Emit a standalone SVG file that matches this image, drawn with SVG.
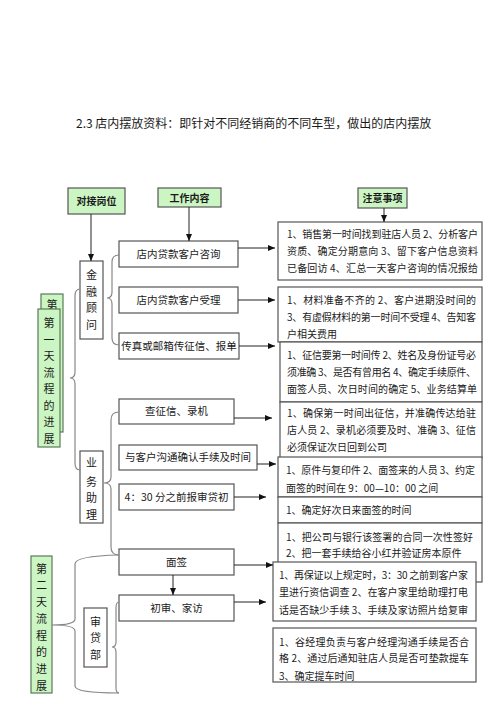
<svg xmlns="http://www.w3.org/2000/svg" width="500" height="708" viewBox="0 0 500 708">
<defs>
<marker id="ah" markerUnits="userSpaceOnUse" markerWidth="7" markerHeight="6" refX="7" refY="3" orient="auto">
<path d="M0,0 L7,3 L0,6 z" fill="#111"/>
</marker>
<style>
text{font-family:"Noto Sans CJK SC","Noto Sans",sans-serif;fill:#1a1a1a}
.box{fill:#fff;stroke:#555;stroke-width:1.2}
.hd{fill:#ccf5c4;stroke:#555;stroke-width:1.2}
.g{fill:#ccf5c4;stroke:#5a7a5a;stroke-width:1.2}
.lbl{font-size:10.5px;text-anchor:middle}
.hdt{font-size:10px;text-anchor:middle;font-weight:bold}
.v{font-size:11px;text-anchor:middle}
.n{font-size:10px}
.br{fill:none;stroke:#888;stroke-width:1.2}
.ar{fill:none;stroke:#222;stroke-width:1;marker-end:url(#ah)}
</style>
</defs>
<rect width="500" height="708" fill="#fff"/>
<text x="76" y="128" style="font-size:12px">2.3 店内摆放资料：即针对不同经销商的不同车型，做出的店内摆放</text>

<g id="h-duijie"><rect class="hd" x="68" y="188" width="57" height="26"/><text class="hdt" x="96.5" y="205">对接岗位</text></g>
<g id="h-gongzuo"><rect class="hd" x="158" y="188" width="63" height="19"/><text class="hdt" x="189.5" y="201.5">工作内容</text></g>
<g id="h-zhuyi"><rect class="hd" x="358" y="188" width="49" height="20"/><text class="hdt" x="382.5" y="202">注意事项</text></g>

<g id="day1-back"><rect class="g" x="41" y="294" width="22" height="138"/><text class="v" x="52" y="309">第</text></g>
<g id="day1"><rect class="g" x="38" y="309" width="22" height="138"/>
<text class="v" x="49" y="327">第</text><text class="v" x="49" y="344">一</text><text class="v" x="49" y="360">天</text><text class="v" x="49" y="377">流</text><text class="v" x="49" y="393">程</text><text class="v" x="49" y="410">的</text><text class="v" x="49" y="426">进</text><text class="v" x="49" y="443">展</text></g>
<g id="day2"><rect class="g" x="31" y="556" width="21" height="137"/>
<text class="v" x="41.5" y="573">第</text><text class="v" x="41.5" y="589">二</text><text class="v" x="41.5" y="606">天</text><text class="v" x="41.5" y="623">流</text><text class="v" x="41.5" y="640">程</text><text class="v" x="41.5" y="656">的</text><text class="v" x="41.5" y="673">进</text><text class="v" x="41.5" y="690">展</text></g>

<g id="jinrong"><rect class="box" x="80" y="261" width="23" height="78"/>
<text class="v" x="91.5" y="279">金</text><text class="v" x="91.5" y="296">融</text><text class="v" x="91.5" y="312">顾</text><text class="v" x="91.5" y="329">问</text></g>
<g id="yewu"><rect class="box" x="80" y="451" width="23" height="72"/>
<text class="v" x="91.5" y="467">业</text><text class="v" x="91.5" y="486">务</text><text class="v" x="91.5" y="502">助</text><text class="v" x="91.5" y="519">理</text></g>
<g id="shendai"><rect class="box" x="84" y="608" width="23" height="59"/>
<text class="v" x="95.5" y="626">审</text><text class="v" x="95.5" y="642">贷</text><text class="v" x="95.5" y="659">部</text></g>

<g id="c1"><rect class="box" x="119" y="241" width="119" height="26"/><text class="lbl" x="178.5" y="258">店内贷款客户咨询</text></g>
<g id="c2"><rect class="box" x="119" y="287" width="119" height="26"/><text class="lbl" x="178.5" y="304">店内贷款客户受理</text></g>
<g id="c3"><rect class="box" x="119" y="333" width="120" height="26"/><text class="lbl" x="179" y="350">传真或邮箱传征信、报单</text></g>
<g id="c4"><rect class="box" x="119" y="399" width="115" height="25"/><text class="lbl" x="176.5" y="415">查征信、录机</text></g>
<g id="c5"><rect class="box" x="119" y="445" width="138" height="25"/><text class="lbl" x="188" y="461">与客户沟通确认手续及时间</text></g>
<g id="c6"><rect class="box" x="119" y="484" width="115" height="26"/><text class="lbl" x="176.5" y="501">4：30 分之前报审贷初</text></g>
<g id="c7"><rect class="box" x="119" y="549" width="115" height="26"/><text class="lbl" x="176.5" y="566">面签</text></g>
<g id="c8"><rect class="box" x="119" y="595" width="115" height="26"/><text class="lbl" x="176.5" y="612">初审、家访</text></g>

<g id="n1"><rect class="box" x="278" y="222" width="204" height="58"/>
<text class="n" x="287" y="238" textLength="191" lengthAdjust="spacing">1、销售第一时间找到驻店人员 2、分析客户</text>
<text class="n" x="287" y="255" textLength="191" lengthAdjust="spacing">资质、确定分期意向 3、留下客户信息资料</text>
<text class="n" x="287" y="272" textLength="191" lengthAdjust="spacing">已备回访 4、汇总一天客户咨询的情况报给</text></g>
<g id="n2"><rect class="box" x="278" y="287" width="204" height="55"/>
<text class="n" x="287" y="304" textLength="189" lengthAdjust="spacing">1、材料准备不齐的 2、客户进期没时间的</text>
<text class="n" x="287" y="321" textLength="189" lengthAdjust="spacing">3、有虚假材料的第一时间不受理 4、告知客</text>
<text class="n" x="287" y="338">户相关费用</text></g>
<g id="n3"><rect class="box" x="280" y="342" width="202" height="60"/>
<text class="n" x="287" y="359" textLength="189" lengthAdjust="spacing">1、征信要第一时间传 2、姓名及身份证号必</text>
<text class="n" x="287" y="376" textLength="189" lengthAdjust="spacing">须准确 3、是否有曾用名 4、确定手续原件、</text>
<text class="n" x="287" y="393" textLength="190" lengthAdjust="spacing">面签人员、次日时间的确定 5、业务结算单</text></g>
<g id="n4"><rect class="box" x="280" y="402" width="202" height="56"/>
<text class="n" x="287" y="417" textLength="189" lengthAdjust="spacing">1、确保第一时间出征信，并准确传达给驻</text>
<text class="n" x="287" y="434" textLength="189" lengthAdjust="spacing">店人员 2、录机必须要及时、准确 3、征信</text>
<text class="n" x="287" y="451">必须保证次日回到公司</text></g>
<g id="n5"><rect class="box" x="278" y="457" width="204" height="40"/>
<text class="n" x="286" y="474" textLength="189" lengthAdjust="spacing">1、原件与复印件 2、面签来的人员 3、约定</text>
<text class="n" x="286" y="492">面签的时间在 9：00—10：00 之间</text></g>
<g id="n6"><rect class="box" x="278" y="497" width="204" height="26"/>
<text class="n" x="286" y="514">1、确定好次日来面签的时间</text></g>
<g id="n7"><rect class="box" x="278" y="523" width="204" height="59"/>
<text class="n" x="286" y="541" textLength="187" lengthAdjust="spacing">1、把公司与银行该签署的合同一次性签好</text>
<text class="n" x="286" y="557">2、把一套手续给谷小红并验证房本原件</text></g>
<g id="n8"><rect class="box" x="273" y="562" width="203" height="59"/>
<text class="n" x="279" y="579" textLength="189" lengthAdjust="spacing">1、再保证以上规定时，3：30 之前到客户家</text>
<text class="n" x="279" y="596" textLength="189" lengthAdjust="spacing">里进行资信调查 2、在客户家里给助理打电</text>
<text class="n" x="279" y="614" textLength="189" lengthAdjust="spacing">话是否缺少手续 3、手续及家访照片给复审</text></g>
<g id="n9"><rect class="box" x="273" y="628" width="203" height="54"/>
<text class="n" x="279" y="646" textLength="190" lengthAdjust="spacing">1、谷经理负责与客户经理沟通手续是否合</text>
<text class="n" x="279" y="662" textLength="190" lengthAdjust="spacing">格 2、通过后通知驻店人员是否可垫款提车</text>
<text class="n" x="279" y="680">3、确定提车时间</text></g>

<g id="connectors">
<path class="br" d="M119,255 Q112,255 112,262 L112,292 Q112,298 107,298 Q112,298 112,304 L112,338 Q112,345 119,345"/>
<path class="br" d="M80,289 Q75,289 75,296 L75,372 Q75,378 70,378 Q75,378 75,384 L75,463 Q75,470 80,470"/>
<path class="br" d="M119,412 Q111,412 111,420 L111,477 Q111,483 104,483 Q111,483 111,489 L111,547 Q111,555 119,555"/>
<path class="br" d="M119,555 Q75,556 75,564 L75,619 Q75,625 52,625 Q75,625 75,631 L75,686 Q75,693 119,693"/>
<path class="br" d="M119,602 Q116,602 116,608 L116,642 Q116,647 112,647 Q116,647 116,652 L116,688 Q116,693 119,693"/>
<line class="ar" x1="91" y1="214" x2="91" y2="261"/>
<line class="ar" x1="189" y1="207" x2="189" y2="241"/>
<line class="ar" x1="384" y1="208" x2="384" y2="222"/>
<line class="ar" x1="238" y1="248" x2="275" y2="248"/>
<line class="ar" x1="238" y1="300" x2="275" y2="300"/>
<line class="ar" x1="239" y1="346" x2="275" y2="346"/>
<line class="ar" x1="234" y1="418" x2="272" y2="418"/>
<line class="ar" x1="257" y1="464" x2="276" y2="464"/>
<line class="ar" x1="234" y1="497" x2="266" y2="497"/>
<line class="ar" x1="234" y1="565" x2="273" y2="565"/>
<line class="ar" x1="173" y1="575" x2="173" y2="595"/>
<line class="ar" x1="234" y1="602" x2="266" y2="602"/>
</g>
</svg>
